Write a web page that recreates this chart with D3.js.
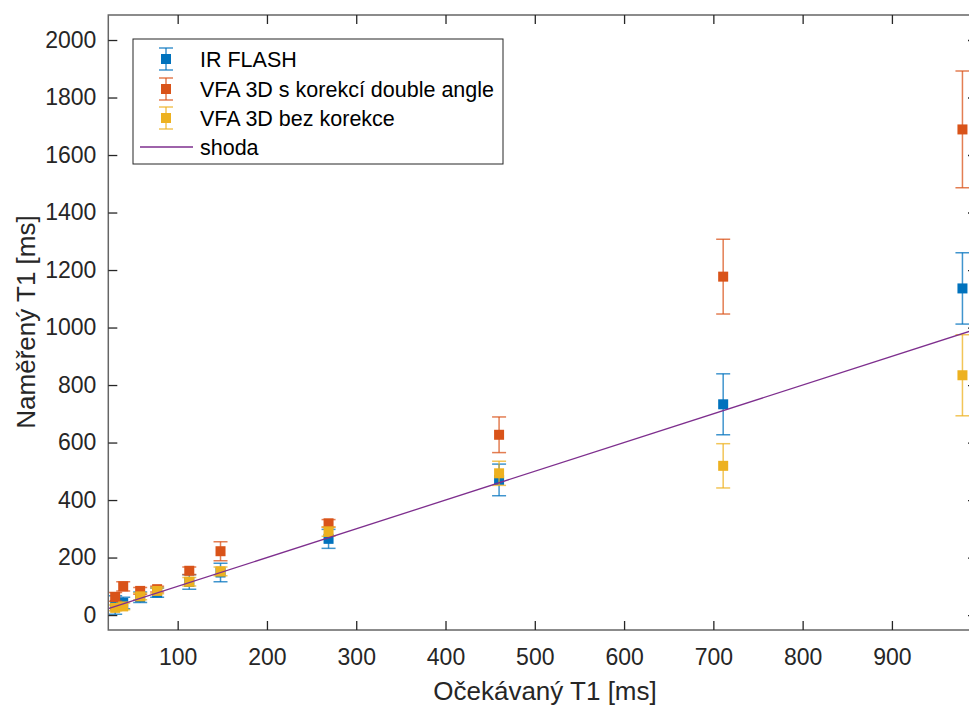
<!DOCTYPE html>
<html>
<head>
<meta charset="utf-8">
<script src="https://cdn.jsdelivr.net/npm/d3@7"></script>
<style>
  body { margin: 0; background: #fff; }
  text { font-family: "Liberation Sans", Arial, sans-serif; fill: #262626; }
</style>
</head>
<body>
<svg width="969" height="707"></svg>
<script>
// expected T1 values [ms]
var expected = [30, 39, 58, 77, 113, 148, 269, 460, 711, 979]

// measured T1 and error (half bar length)
var irFlash = [35, 42, 62, 78, 115, 148, 265, 470, 733, 1136]
var irFlashErr = [32, 20, 18, 16, 25, 32, 33, 55, 106, 124]

var vfaCorr = [63, 100, 84, 90, 154, 222, 319, 627, 1177, 1689]
var vfaCorrErr = [15, 16, 12, 10, 13, 33, 13, 62, 130, 203]

var vfaRaw = [25, 30, 65, 84, 116, 152, 290, 493, 519, 834]
var vfaRawErr = [10, 12, 12, 10, 15, 15, 16, 42, 77, 141]

var xTicks = [100, 200, 300, 400, 500, 600, 700, 800, 900]
var yTicks = [0, 200, 400, 600, 800, 1000, 1200, 1400, 1600, 1800, 2000]

var series = [
  { name: 'IR FLASH', y: irFlash, err: irFlashErr, color: '#0072BD' },
  { name: 'VFA 3D s korekcí double angle', y: vfaCorr, err: vfaCorrErr, color: '#D95319' },
  { name: 'VFA 3D bez korekce', y: vfaRaw, err: vfaRawErr, color: '#EDB120' }
]
var lineColor = '#7E2F8E'

// plot frame
const plotLeft = 108.3
const plotRight = 977
const plotTop = 15
const plotBottom = 630

const svg = d3.select('svg')

const xScale = d3.scaleLinear().domain([22.3, 995.3]).range([plotLeft, plotRight])
const yScale = d3.scaleLinear().domain([-52, 2087]).range([plotBottom, plotTop])

const clip = svg.append('clipPath').attr('id', 'clip')
clip.append('rect')
  .attr('x', plotLeft).attr('y', plotTop)
  .attr('width', plotRight - plotLeft).attr('height', plotBottom - plotTop)

const plot = svg.append('g').attr('clip-path', 'url(#clip)')

// error bars and markers
series.forEach(function(s) {
  var pts = expected.map(function(x, i) {
    return { x: x, y: s.y[i], e: s.err[i] }
  })
  var g = plot.append('g')
  var eb = g.selectAll('g.eb').data(pts).enter().append('g')
    .attr('stroke', s.color)
    .attr('stroke-width', 1.5)
    .attr('stroke-opacity', 0.75)
  eb.append('line')
    .attr('x1', d => xScale(d.x)).attr('x2', d => xScale(d.x))
    .attr('y1', d => yScale(d.y - d.e)).attr('y2', d => yScale(d.y + d.e))
  eb.append('line')
    .attr('x1', d => xScale(d.x) - 7).attr('x2', d => xScale(d.x) + 7)
    .attr('y1', d => yScale(d.y - d.e)).attr('y2', d => yScale(d.y - d.e))
  eb.append('line')
    .attr('x1', d => xScale(d.x) - 7).attr('x2', d => xScale(d.x) + 7)
    .attr('y1', d => yScale(d.y + d.e)).attr('y2', d => yScale(d.y + d.e))
  g.selectAll('rect').data(pts).enter().append('rect')
    .attr('x', d => xScale(d.x) - 5)
    .attr('y', d => yScale(d.y) - 5)
    .attr('width', 10).attr('height', 10)
    .attr('fill', s.color)
})

// agreement line y = x
var xd = xScale.domain()
plot.append('line')
  .attr('x1', xScale(xd[0])).attr('y1', yScale(xd[0]))
  .attr('x2', xScale(xd[1])).attr('y2', yScale(xd[1]))
  .attr('stroke', lineColor)
  .attr('stroke-width', 1.3)

// axes (MATLAB style box with inward ticks)
const axisColor = '#666'
svg.append('rect')
  .attr('x', plotLeft).attr('y', plotTop)
  .attr('width', plotRight - plotLeft).attr('height', plotBottom - plotTop)
  .attr('fill', 'none').attr('stroke', axisColor).attr('stroke-width', 1.5)

const fmt = d3.format('d')
const xAxis = svg.append('g').attr('transform', `translate(0, ${plotBottom})`)
  .call(d3.axisBottom(xScale).tickValues(xTicks).tickFormat(fmt).tickSizeInner(-9).tickSizeOuter(0).tickPadding(19))
const xAxisTop = svg.append('g').attr('transform', `translate(0, ${plotTop})`)
  .call(d3.axisTop(xScale).tickValues(xTicks).tickSizeInner(-9).tickSizeOuter(0).tickFormat(''))
const yAxis = svg.append('g').attr('transform', `translate(${plotLeft}, 0)`)
  .call(d3.axisLeft(yScale).tickValues(yTicks).tickFormat(fmt).tickSizeInner(-9).tickSizeOuter(0).tickPadding(12))
const yAxisRight = svg.append('g').attr('transform', `translate(${plotRight}, 0)`)
  .call(d3.axisRight(yScale).tickValues(yTicks).tickSizeInner(-9).tickSizeOuter(0).tickFormat(''))

;[xAxis, xAxisTop, yAxis, yAxisRight].forEach(function(a) {
  a.select('.domain').remove()
  a.selectAll('line').attr('stroke', '#262626').attr('stroke-width', 1.3)
  a.selectAll('text').style('font-size', '23px')
    .style('font-family', '"Liberation Sans", Arial, sans-serif').attr('fill', '#262626')
})

// axis labels
svg.append('text')
  .attr('x', 545).attr('y', 700)
  .attr('text-anchor', 'middle')
  .style('font-size', '26px')
  .text('Očekávaný T1 [ms]')

svg.append('text')
  .attr('transform', 'translate(35, 322) rotate(-90)')
  .attr('text-anchor', 'middle')
  .style('font-size', '26px')
  .text('Naměřený T1 [ms]')

// legend
const legend = svg.append('g')
legend.append('rect')
  .attr('x', 133).attr('y', 39)
  .attr('width', 370).attr('height', 125)
  .attr('fill', '#fff').attr('stroke', '#262626').attr('stroke-width', 1)

var rowY = [59, 89, 118, 147]
series.forEach(function(s, i) {
  var cy = rowY[i]
  var cx = 166
  var lg = legend.append('g').attr('stroke', s.color).attr('stroke-width', 1.5).attr('stroke-opacity', 0.75)
  lg.append('line').attr('x1', cx).attr('x2', cx).attr('y1', cy - 11).attr('y2', cy + 11)
  lg.append('line').attr('x1', cx - 7).attr('x2', cx + 7).attr('y1', cy - 11).attr('y2', cy - 11)
  lg.append('line').attr('x1', cx - 7).attr('x2', cx + 7).attr('y1', cy + 11).attr('y2', cy + 11)
  legend.append('rect')
    .attr('x', cx - 5).attr('y', cy - 5).attr('width', 10).attr('height', 10)
    .attr('fill', s.color)
  legend.append('text')
    .attr('x', 200).attr('y', cy + 8)
    .style('font-size', '21.5px')
    .style('fill', '#000')
    .text(s.name)
})
legend.append('line')
  .attr('x1', 140).attr('x2', 193)
  .attr('y1', rowY[3]).attr('y2', rowY[3])
  .attr('stroke', lineColor).attr('stroke-width', 1.3)
legend.append('text')
  .attr('x', 200).attr('y', rowY[3] + 8)
  .style('font-size', '21.5px')
  .style('fill', '#000')
  .text('shoda')
</script>
</body>
</html>
